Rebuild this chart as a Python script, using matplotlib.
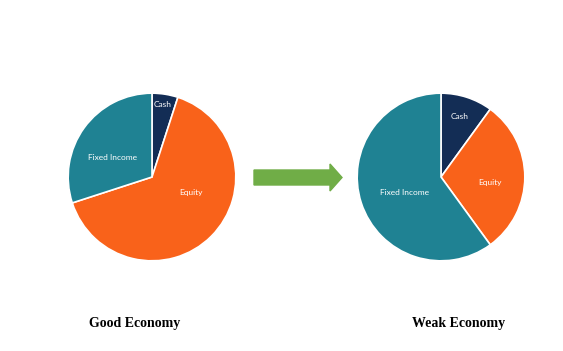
import matplotlib
matplotlib.use("Agg")
import matplotlib.pyplot as plt
from matplotlib.patches import FancyArrow

# data
categories = ["Cash", "Equity", "Fixed Income"]
good_economy = [5, 65, 30]
weak_economy = [10, 30, 60]
titles = ["Good Economy", "Weak Economy"]
colors = ["#132d55", "#f9621a", "#1f8293"]

# label positions inside each pie (pie radius = 1)
label_pos_good = [(0.13, 0.86), (0.47, -0.18), (-0.47, 0.23)]
label_pos_weak = [(0.22, 0.72), (0.58, -0.06), (-0.43, -0.19)]

W, H = 563, 351
fig = plt.figure(figsize=(W / 100, H / 100), dpi=100)
fig.patch.set_facecolor("white")

def draw_pie(cx, cy, r, values, label_pos):
    ax = fig.add_axes([(cx - r) / W, (H - cy - r) / H, 2 * r / W, 2 * r / H])
    ax.pie(values, colors=colors, startangle=90, counterclock=False,
           radius=1, wedgeprops=dict(edgecolor="white", linewidth=1.2))
    for name, (x, y) in zip(categories, label_pos):
        ax.text(x, y, name, color="white", fontsize=6.0, family="Lato",
                ha="center", va="center")
    ax.set_xlim(-1.02, 1.02)
    ax.set_ylim(-1.02, 1.02)
    ax.set_aspect("auto")
    ax.axis("off")

draw_pie(152, 177, 85.5, good_economy, label_pos_good)
draw_pie(441, 177, 85.5, weak_economy, label_pos_weak)

# green arrow
arrow = FancyArrow(254 / W, 1 - 177.5 / H, 88 / W, 0, width=15 / H,
                   head_width=27 / H, head_length=12 / W,
                   length_includes_head=True, color="#70ad47",
                   transform=fig.transFigure)
fig.add_artist(arrow)

fig.text(135 / W, 1 - 324 / H, titles[0], ha="center", va="center",
         fontsize=10, fontweight="bold", family="Liberation Serif")
fig.text(459 / W, 1 - 324 / H, titles[1], ha="center", va="center",
         fontsize=10, fontweight="bold", family="Liberation Serif")

fig.savefig("out.png", dpi=100, facecolor="white")
